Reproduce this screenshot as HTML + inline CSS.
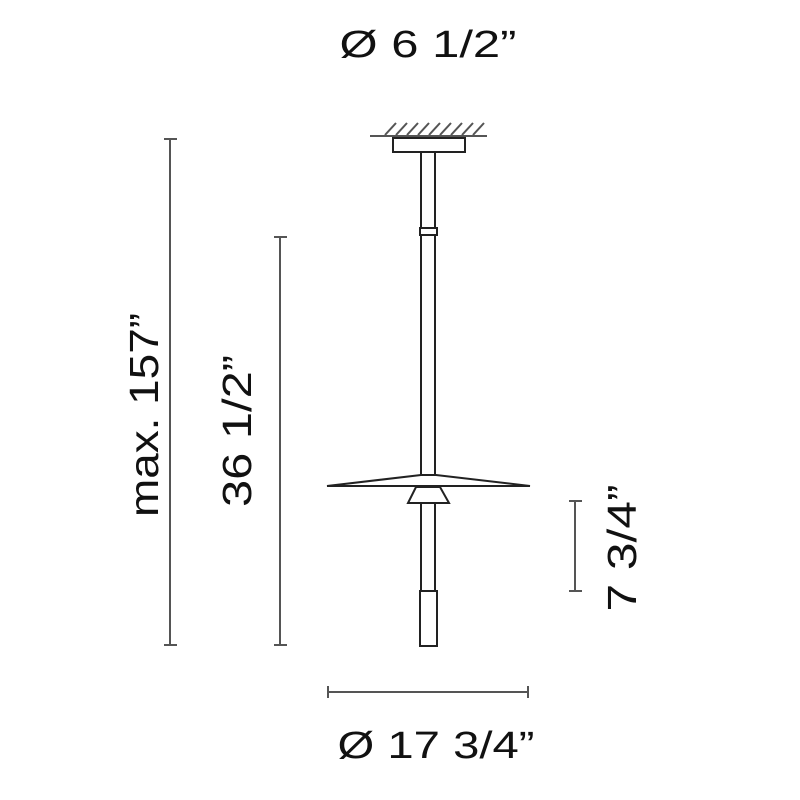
<!DOCTYPE html>
<html><head><style>html,body{margin:0;padding:0;background:#fff;}svg{display:block}</style></head>
<body>
<svg width="800" height="800" viewBox="0 0 800 800" xmlns="http://www.w3.org/2000/svg" font-family="Liberation Sans, sans-serif" fill="#111">
<g stroke="#222" stroke-width="2" fill="none">
<line x1="370" y1="136" x2="487" y2="136" stroke="#555" stroke-width="2"/>
<g stroke="#555" stroke-width="2">
<line x1="385" y1="135" x2="396" y2="123"/><line x1="396" y1="135" x2="407" y2="123"/>
<line x1="407" y1="135" x2="418" y2="123"/><line x1="418" y1="135" x2="429" y2="123"/>
<line x1="429" y1="135" x2="440" y2="123"/><line x1="440" y1="135" x2="451" y2="123"/>
<line x1="451" y1="135" x2="462" y2="123"/><line x1="462" y1="135" x2="473" y2="123"/>
<line x1="473" y1="135" x2="484" y2="123"/>
</g>
<rect x="393" y="138" width="72" height="14"/>
<line x1="421" y1="152" x2="421" y2="476"/><line x1="435" y1="152" x2="435" y2="476"/>
<rect x="420" y="228" width="17" height="7" fill="#fff"/>
<path d="M327 486 L530 486 L436 475 L421 475 Z" fill="#fff"/>
<path d="M416 487 L440 487 L449 503 L408 503 Z" fill="#fff"/>
<line x1="421" y1="503" x2="421" y2="591"/><line x1="435" y1="503" x2="435" y2="591"/>
<rect x="420" y="591" width="17" height="55"/>
<g stroke="#555" stroke-width="2">
<line x1="170" y1="139" x2="170" y2="645"/><line x1="164" y1="139" x2="177" y2="139"/><line x1="164" y1="645" x2="177" y2="645"/>
<line x1="280" y1="237" x2="280" y2="645"/><line x1="274" y1="237" x2="287" y2="237"/><line x1="274" y1="645" x2="287" y2="645"/>
<line x1="575" y1="501" x2="575" y2="591"/><line x1="569" y1="501" x2="582" y2="501"/><line x1="569" y1="591" x2="582" y2="591"/>
<line x1="328" y1="692" x2="528" y2="692"/><line x1="328" y1="686" x2="328" y2="698"/><line x1="528" y1="686" x2="528" y2="698"/>
</g>
</g>
<text x="428" y="57" font-size="38" text-anchor="middle" textLength="177" lengthAdjust="spacingAndGlyphs">Ø 6 1/2”</text>
<text x="436" y="758" font-size="38" text-anchor="middle" textLength="197" lengthAdjust="spacingAndGlyphs">Ø 17 3/4”</text>
<text transform="translate(158,415) rotate(-90)" font-size="41" text-anchor="middle" textLength="204" lengthAdjust="spacingAndGlyphs">max. 157”</text>
<text transform="translate(251,431) rotate(-90)" font-size="41" text-anchor="middle" textLength="152" lengthAdjust="spacingAndGlyphs">36 1/2”</text>
<text transform="translate(636,548) rotate(-90)" font-size="41" text-anchor="middle" textLength="127" lengthAdjust="spacingAndGlyphs">7 3/4”</text>
</svg>
</body></html>
